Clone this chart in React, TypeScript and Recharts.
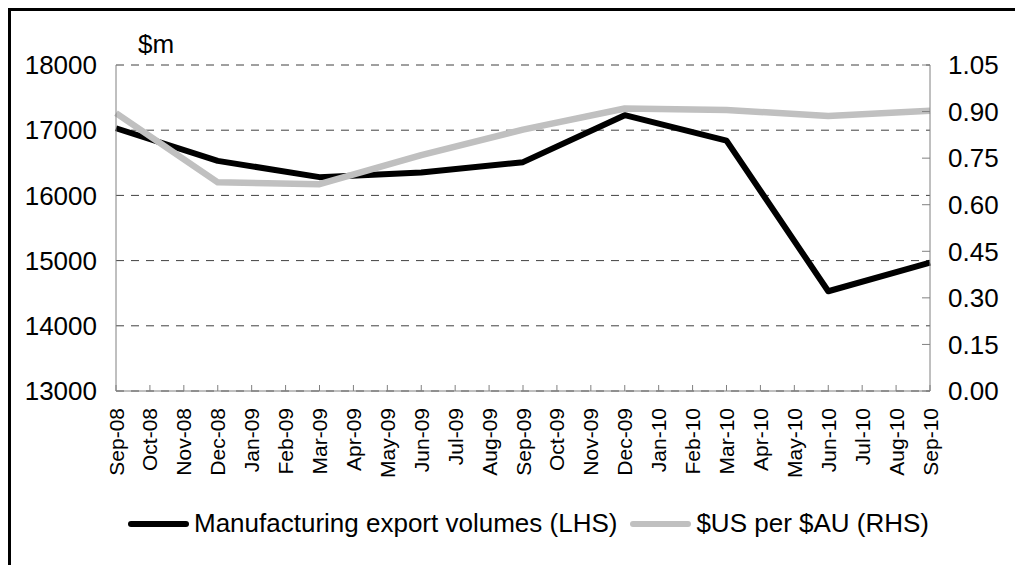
import { CartesianGrid, Legend, Line, LineChart, XAxis, YAxis } from 'recharts';

const months = [
  'Sep-08', 'Oct-08', 'Nov-08', 'Dec-08', 'Jan-09', 'Feb-09', 'Mar-09', 'Apr-09', 'May-09',
  'Jun-09', 'Jul-09', 'Aug-09', 'Sep-09', 'Oct-09', 'Nov-09', 'Dec-09', 'Jan-10', 'Feb-10',
  'Mar-10', 'Apr-10', 'May-10', 'Jun-10', 'Jul-10', 'Aug-10', 'Sep-10',
];

// quarterly observations only; months in between are empty
const exportVolumes = [
  17030, null, null, 16530, null, null, 16280, null, null, 16350, null, null, 16510,
  null, null, 17230, null, null, 16840, null, null, 14530, null, null, 14970,
];
const usdPerAud = [
  0.895, null, null, 0.672, null, null, 0.666, null, null, 0.76, null, null, 0.842,
  null, null, 0.91, null, null, 0.905, null, null, 0.886, null, null, 0.903,
];

const leftTicks = [13000, 14000, 15000, 16000, 17000, 18000];
const rightTicks = [0, 0.15, 0.3, 0.45, 0.6, 0.75, 0.9, 1.05];
const legendOrder = ['exports', 'aud'];

const data = months.map((month, i) => ({
  month,
  exports: exportVolumes[i],
  aud: usdPerAud[i],
}));

const FONT = '"Liberation Sans", Arial, sans-serif';
const AXIS_GREY = '#808080';

function MonthTick({ x, y, payload }: any) {
  return (
    <g transform={`translate(${x},${y}) rotate(-90)`}>
      <text x={0} y={0} dy="0.36em" textAnchor="end" fontSize={21} fontFamily={FONT} fill="#000">
        {payload.value}
      </text>
    </g>
  );
}

function LegendContent({ payload }: any) {
  const items = [...(payload ?? [])].sort(
    (a: any, b: any) => legendOrder.indexOf(a.dataKey) - legendOrder.indexOf(b.dataKey),
  );
  return (
    <div style={{ display: 'flex', alignItems: 'center', fontFamily: FONT, fontSize: 26, color: '#000' }}>
      {items.map((entry: any, i: number) => (
        <div key={entry.value} style={{ display: 'flex', alignItems: 'center', marginLeft: i === 0 ? 0 : 13 }}>
          <span
            style={{
              display: 'inline-block',
              width: 61,
              height: 6,
              borderRadius: 3,
              background: entry.color,
              marginRight: 5,
            }}
          />
          <span style={{ whiteSpace: 'nowrap' }}>{entry.value}</span>
        </div>
      ))}
    </div>
  );
}

export default function App() {
  return (
    <>
      <style>{'body{overflow:hidden}'}</style>
      <div
        style={{
          width: 1020,
          height: 570,
          borderLeft: '3px solid #000',
          borderTop: '3px solid #000',
          fontFamily: FONT,
        }}
      >
        <LineChart width={1004} height={546} data={data} margin={{ top: 54, right: 0, left: 0, bottom: 66 }}>
          <CartesianGrid yAxisId="left" vertical={false} stroke="#404040" strokeDasharray="8 7" />
          <XAxis
            dataKey="month"
            interval={0}
            height={100}
            stroke={AXIS_GREY}
            tickSize={-6}
            tickMargin={23}
            tick={<MonthTick />}
          />
          <YAxis
            yAxisId="left"
            orientation="left"
            width={105}
            domain={[13000, 18000]}
            ticks={leftTicks}
            stroke={AXIS_GREY}
            tickLine={false}
            tickSize={0}
            tickMargin={19}
            tick={{ fontSize: 26, fill: '#000', fontFamily: FONT }}
            label={{
              content: ({ viewBox }: any) => (
                <text
                  x={viewBox.x + viewBox.width + 22}
                  y={viewBox.y - 12}
                  fontSize={26}
                  fontFamily={FONT}
                  fill="#000"
                >
                  $m
                </text>
              ),
            }}
          />
          <YAxis
            yAxisId="right"
            orientation="right"
            width={85}
            domain={[0, 1.05]}
            ticks={rightTicks}
            stroke={AXIS_GREY}
            tickSize={-8}
            tickMargin={26}
            tickFormatter={(v: number) => v.toFixed(2)}
            tick={{ fontSize: 26, fill: '#000', fontFamily: FONT, textAnchor: 'start' }}
          />
          <Legend
            layout="horizontal"
            verticalAlign="middle"
            align="center"
            content={<LegendContent />}
            wrapperStyle={{ left: 117, top: 497, width: 'auto' }}
          />
          <Line
            yAxisId="left"
            dataKey="exports"
            name="Manufacturing export volumes (LHS)"
            stroke="#000"
            strokeWidth={6}
            strokeLinejoin="round"
            dot={false}
            activeDot={false}
            connectNulls
            isAnimationActive={false}
          />
          <Line
            yAxisId="right"
            dataKey="aud"
            name="$US per $AU (RHS)"
            stroke="#C0C0C0"
            strokeWidth={6.5}
            strokeLinejoin="round"
            dot={false}
            activeDot={false}
            connectNulls
            isAnimationActive={false}
          />
        </LineChart>
      </div>
    </>
  );
}
